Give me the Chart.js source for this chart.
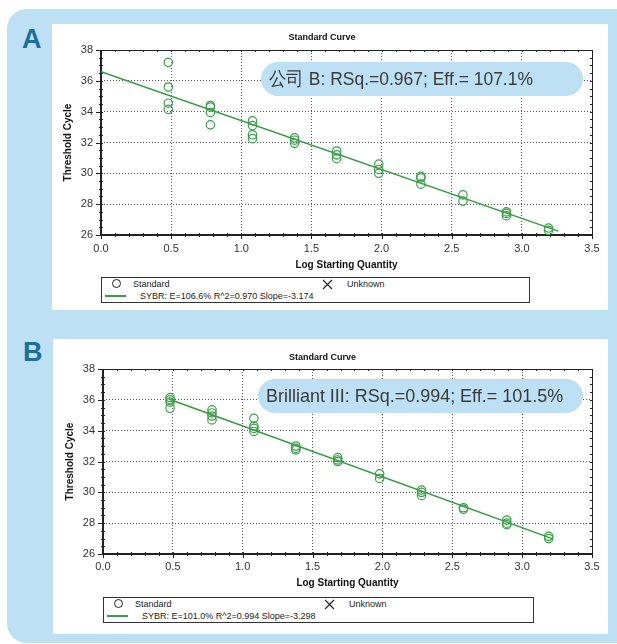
<!DOCTYPE html>
<html>
<head>
<meta charset="utf-8">
<script src="https://cdn.jsdelivr.net/npm/chart.js@4.4.1/dist/chart.umd.min.js"></script>
<style>
  body { margin: 0; width: 617px; height: 644px; overflow: hidden; background: #fff; position: relative;
         font-family: 'Liberation Sans Narrow', 'Arial Narrow', 'Liberation Sans', Arial, sans-serif; }
  .abs { position: absolute; }
  .outer { left: 7px; top: 9px; width: 630px; height: 634px; border-radius: 20px; background: #bde0f5; }
  .panel { background: #fff; }
  .letter { font-weight: bold; font-size: 27px; color: #1b6d9d; line-height: 1; }
  .pill { background: #bde0f5; border-radius: 17px; height: 34px; line-height: 34px; color: #3a3a3a;
          font-size: 19px; white-space: nowrap; padding-left: 8px; box-sizing: border-box; }
  .pill span { display: inline-block; transform: scaleX(0.92); transform-origin: 0 50%; }
  .pill.b span { transform: scaleX(0.945); }
  .legend { border: 1.5px solid #333; box-sizing: border-box; width: 429px; height: 26px; font-size: 9px; color: #222; }
  .legend .t { position: absolute; line-height: 10px; white-space: nowrap; }
  .legend .c { position: absolute; width: 7px; height: 7px; border: 1.3px solid #222; border-radius: 50%; }
  .legend .ln { position: absolute; height: 1.5px; background: #3a9e48; }
</style>
</head>
<body>
<div class="abs outer"></div>
<div class="abs panel" style="left:52px;top:24px;width:556px;height:286px"></div>
<div class="abs panel" style="left:53px;top:339px;width:555px;height:295px"></div>
<div class="abs letter" style="left:22px;top:26px">A</div>
<div class="abs letter" style="left:23px;top:339px">B</div>

<canvas id="chartA" class="abs" style="left:52px;top:24px" width="556" height="252"></canvas>
<canvas id="chartB" class="abs" style="left:53px;top:339px" width="555" height="256"></canvas>

<div id="legendA" class="abs legend" style="left:101px;top:277px"></div>
<div id="legendB" class="abs legend" style="left:103px;top:597px;width:431px"></div>

<div class="abs pill" style="left:261px;top:62px;width:322px"><span>公司 B: RSq.=0.967; Eff.= 107.1%</span></div>
<div class="abs pill b" style="left:258px;top:379px;width:325px"><span>Brilliant III: RSq.=0.994; Eff.= 101.5%</span></div>

<script>
// log starting quantity of the standards (2-fold dilution series)
const logQty = [0.48, 0.78, 1.08, 1.38, 1.68, 1.98, 2.28, 2.58, 2.89, 3.19];

// threshold cycles of the replicates at each dilution
const ctA = [
  [37.2, 35.6, 34.55, 34.15],
  [34.4, 34.3, 33.95, 33.15],
  [33.4, 33.1, 32.5, 32.25],
  [32.3, 32.15, 31.95],
  [31.45, 31.2, 30.95],
  [30.6, 30.25, 30.0],
  [29.8, 29.7, 29.3],
  [28.6, 28.2],
  [27.5, 27.4, 27.25],
  [26.45, 26.3]
];
const ctB = [
  [36.15, 36.0, 35.85, 35.45],
  [35.35, 35.15, 34.95, 34.7],
  [34.8, 34.3, 34.15, 33.95],
  [33.0, 32.85, 32.75],
  [32.25, 32.1, 32.0],
  [31.2, 30.9],
  [30.15, 30.0, 29.8],
  [29.0, 28.9],
  [28.2, 28.0, 27.9],
  [27.15, 27.0]
];

// fitted standard curve end points
const fitAX = [0, 3.26];
const fitAY = [36.6, 26.25];
const fitBX = [0.47, 3.22];
const fitBY = [36.05, 26.98];

const xTicks = [0, 0.5, 1.0, 1.5, 2.0, 2.5, 3.0, 3.5];
const yTicks = [26, 28, 30, 32, 34, 36, 38];

const legendTextA = 'SYBR: E=106.6% R^2=0.970 Slope=-3.174';
const legendTextB = 'SYBR: E=101.0% R^2=0.994 Slope=-3.298';

const FONT = "'Liberation Sans Narrow', 'Arial Narrow', 'Liberation Sans', Arial, sans-serif";
const GREEN = '#3a9e48';

function toPoints(ct) {
  const pts = [];
  ct.forEach((reps, i) => reps.forEach(v => pts.push({ x: logQty[i], y: v })));
  return pts;
}

// axis frame with minor/major tick marks
const frameTicks = {
  id: 'frameTicks',
  beforeDatasetsDraw(chart) {
    const { ctx, chartArea: a, scales: { x, y } } = chart;
    ctx.save();
    ctx.strokeStyle = '#222';
    ctx.lineWidth = 1;
    ctx.strokeRect(Math.round(a.left) + 0.5, Math.round(a.top) + 0.5,
                   Math.round(a.width), Math.round(a.height));
    ctx.lineWidth = 2;
    ctx.beginPath();
    ctx.moveTo(Math.round(a.left), Math.round(a.top));
    ctx.lineTo(Math.round(a.left), Math.round(a.bottom));
    ctx.lineTo(Math.round(a.right) + 1, Math.round(a.bottom));
    ctx.stroke();
    ctx.lineWidth = 1;
    ctx.beginPath();
    for (let i = 0; i <= 35; i++) {
      const px = Math.round(x.getPixelForValue(i / 10)) + 0.5;
      const major = i % 5 === 0;
      ctx.moveTo(px, a.bottom - 2);
      ctx.lineTo(px, a.bottom + (major ? 4 : 2));
      ctx.moveTo(px, a.top);
      ctx.lineTo(px, a.top + 2);
    }
    for (let i = 0; i <= 24; i++) {
      const py = Math.round(y.getPixelForValue(26 + i / 2)) + 0.5;
      const major = i % 4 === 0;
      ctx.moveTo(a.left - (major ? 5 : 2), py);
      ctx.lineTo(a.left + 2, py);
      ctx.moveTo(a.right - 2, py);
      ctx.lineTo(a.right, py);
    }
    ctx.stroke();
    ctx.restore();
  }
};

function makeChart(id, ct, fitX, fitY, lay) {
  const gridColor = (c) => {
    const v = c.tick ? c.tick.value : null;
    return (v === 26 || v === 38 || v === 0 || v === 3.5) ? 'rgba(0,0,0,0)' : '#555';
  };
  return new Chart(document.getElementById(id), {
    type: 'scatter',
    data: {
      datasets: [
        {
          label: 'Standard',
          data: toPoints(ct),
          pointStyle: 'circle',
          pointRadius: 4.2,
          pointBorderWidth: 1.2,
          borderColor: GREEN,
          backgroundColor: 'rgba(0,0,0,0)',
          order: 1
        },
        {
          label: 'SYBR',
          type: 'line',
          data: fitX.map((v, i) => ({ x: v, y: fitY[i] })),
          borderColor: '#2f9a3e',
          borderWidth: 1.5,
          pointRadius: 0,
          showLine: true,
          fill: false,
          order: 2
        }
      ]
    },
    options: {
      responsive: false,
      animation: false,
      layout: { padding: { left: 0, right: lay.right, top: 0, bottom: 0 } },
      plugins: {
        legend: { display: false },
        tooltip: { enabled: false },
        title: {
          display: true,
          text: 'Standard Curve',
          color: '#111',
          font: { family: FONT, size: 9, weight: 'bold', lineHeight: 1.2 },
          padding: { top: lay.titleTop, bottom: lay.titleBottom }
        }
      },
      scales: {
        x: {
          type: 'linear',
          min: 0, max: 3.5,
          afterBuildTicks: (s) => { s.ticks = xTicks.map(v => ({ value: v })); },
          afterFit: (s) => { s.height = lay.xHeight; },
          ticks: {
            color: '#333', padding: lay.xPad,
            font: { family: FONT, size: 11 },
            callback: (v) => Number(v).toFixed(1)
          },
          grid: { color: gridColor, lineWidth: 1, drawTicks: false },
          border: { display: false, dash: [1, 2] },
          title: {
            display: true, text: 'Log Starting Quantity', color: '#111',
            font: { family: FONT, size: 10, weight: 'bold', lineHeight: 1.2 },
            padding: { top: 0, bottom: lay.xTitleBottom }
          }
        },
        y: {
          type: 'linear',
          min: 26, max: 38,
          afterBuildTicks: (s) => { s.ticks = yTicks.map(v => ({ value: v })); },
          afterFit: (s) => { s.width = lay.yWidth; },
          ticks: {
            color: '#333', padding: lay.yPad,
            font: { family: FONT, size: 11 }
          },
          grid: { color: gridColor, lineWidth: 1, drawTicks: false },
          border: { display: false, dash: [1, 2] },
          title: {
            display: true, text: 'Threshold Cycle', color: '#111',
            font: { family: FONT, size: 10, weight: 'bold', lineHeight: 1.2 },
            padding: { top: lay.yTitleTop, bottom: 0 }
          }
        }
      }
    },
    plugins: [frameTicks]
  });
}

function buildLegend(id, text) {
  const box = document.getElementById(id);
  box.innerHTML =
    '<div class="c" style="left:10px;top:1px"></div>' +
    '<div class="t" style="left:31px;top:1px">Standard</div>' +
    '<svg style="position:absolute;left:220px;top:0.5px" width="11" height="11">' +
      '<path d="M1 1 L10 10 M10 1 L1 10" stroke="#222" stroke-width="1.1" fill="none"/></svg>' +
    '<div class="t" style="left:245px;top:1px">Unknown</div>' +
    '<div class="ln" style="left:3px;top:17px;width:21px"></div>' +
    '<div class="t" style="left:38px;top:13px">' + text + '</div>';
}

makeChart('chartA', ctA, fitAX, fitAY, {
  right: 16, titleTop: 8.6, titleBottom: 6.6, xHeight: 41, xPad: 7, xTitleBottom: 5,
  yWidth: 49, yPad: 8, yTitleTop: 10
});
makeChart('chartB', ctB, fitBX, fitBY, {
  right: 16, titleTop: 13.6, titleBottom: 5.6, xHeight: 41, xPad: 6, xTitleBottom: 6,
  yWidth: 50, yPad: 8, yTitleTop: 11
});
buildLegend('legendA', legendTextA);
buildLegend('legendB', legendTextB);
</script>
</body>
</html>
